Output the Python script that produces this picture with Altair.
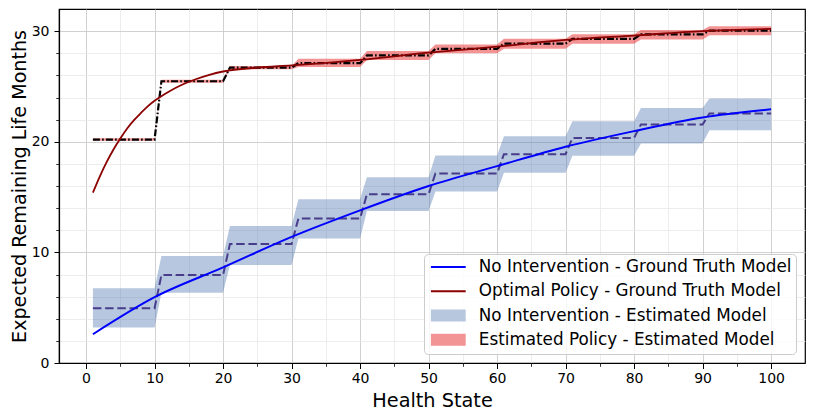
import altair as alt
import pandas as pd

# ---- data ----
block_starts = [1, 11, 21, 31, 41, 51, 61, 71, 81, 91]
block_len = 10

# No Intervention - Estimated Model (dashed step + band)
noint_est_mid = [4.95, 7.95, 10.75, 13.07, 15.25, 17.14, 18.88, 20.35, 21.56, 22.55]
noint_est_hi = [6.75, 9.67, 12.38, 14.80, 16.80, 18.75, 20.50, 21.86, 23.06, 23.90]
noint_est_lo = [3.22, 6.35, 8.85, 11.26, 13.75, 15.50, 17.20, 18.73, 19.84, 21.05]

# Estimated Policy - Estimated Model (dash-dot step + band)
pol_est_mid = [20.20, 25.47, 26.70, 27.10, 27.80, 28.40, 28.87, 29.30, 29.70, 30.05]
pol_est_hi = [20.32, 25.60, 26.85, 27.50, 28.20, 28.80, 29.30, 29.72, 30.10, 30.45]
pol_est_lo = [20.08, 25.34, 26.55, 26.75, 27.40, 28.00, 28.40, 28.85, 29.25, 29.63]

# Ground truth curves
gt_noint_x = [1, 10, 20, 30, 40, 50, 60, 70, 80, 90, 100]
gt_noint_y = [2.6, 5.95, 8.64, 11.4, 13.8, 16.0, 17.8, 19.55, 20.96, 22.2, 22.94]
gt_opt_x = [1, 2, 3, 4, 5, 6, 7, 8, 9, 10, 12, 14, 16, 18, 20, 25, 30,
            40, 50, 60, 70, 80, 90, 100]
gt_opt_y = [15.4, 16.85, 18.15, 19.3, 20.3, 21.2, 21.95, 22.6, 23.2, 23.7,
            24.5, 25.15, 25.65, 26.05, 26.35, 26.7, 26.9,
            27.4, 28.05, 28.6, 29.2, 29.6, 30.0, 30.2]

x_major = [0, 10, 20, 30, 40, 50, 60, 70, 80, 90, 100]
x_minor = [5, 15, 25, 35, 45, 55, 65, 75, 85, 95]
y_major = [0, 10, 20, 30]
y_minor = [2, 4, 6, 8, 12, 14, 16, 18, 22, 24, 26, 28]

legend_labels = [
    "No Intervention - Ground Truth Model",
    "Optimal Policy - Ground Truth Model",
    "No Intervention - Estimated Model",
    "Estimated Policy - Estimated Model",
]
legend_colors = ["#0000FF", "#8B0000", "#B7C7DE", "#F29394"]
line_sym = "M-2.9,-0.17L2.9,-0.17L2.9,0.17L-2.9,0.17Z"
patch_sym = "M-2.9,-1L2.9,-1L2.9,1L-2.9,1Z"
legend_shapes = [line_sym, line_sym, patch_sym, patch_sym]

# ---- tables ----
rows = []
for i, s0 in enumerate(block_starts):
    for s in range(s0, s0 + block_len):
        rows.append({
            "state": s,
            "n_mid": noint_est_mid[i], "n_hi": noint_est_hi[i], "n_lo": noint_est_lo[i],
            "p_mid": pol_est_mid[i], "p_hi": pol_est_hi[i], "p_lo": pol_est_lo[i],
        })
est = pd.DataFrame(rows)
gt_noint = pd.DataFrame({"state": gt_noint_x, "v": gt_noint_y})
gt_opt = pd.DataFrame({"state": gt_opt_x, "v": gt_opt_y})
leg_df = pd.DataFrame({"series": legend_labels})

FONT = "DejaVu Sans"
xscale = alt.Scale(domain=[-3.95, 104.95], nice=False, zero=False)
yscale = alt.Scale(domain=[0, 32], nice=False, zero=False)

x_minor_axis = alt.Axis(values=x_minor, orient="bottom", labels=False, title=None,
                        grid=True, gridColor="#e8e8e8", gridWidth=0.8,
                        ticks=True, tickSize=3.3, tickColor="black", tickWidth=0.8,
                        domain=False)
y_minor_axis = alt.Axis(values=y_minor, orient="left", labels=False, title=None,
                        grid=True, gridColor="#e8e8e8", gridWidth=0.8,
                        ticks=True, tickSize=3.3, tickColor="black", tickWidth=0.8,
                        domain=False)
x_major_axis = alt.Axis(values=x_major, orient="bottom", title="Health State",
                        grid=True, gridColor="#cccccc", gridWidth=0.9,
                        ticks=True, tickSize=5.5, tickColor="black", tickWidth=1,
                        domain=True, domainColor="black", domainWidth=1.2,
                        labelFont=FONT, labelFontSize=14, labelColor="black",
                        labelPadding=3, labelFlush=False,
                        titleFont=FONT, titleFontSize=19.3, titleFontWeight="normal",
                        titleColor="black", titlePadding=5.5)
y_major_axis = alt.Axis(values=y_major, orient="left", title="Expected Remaining Life Months",
                        grid=True, gridColor="#cccccc", gridWidth=0.9,
                        ticks=True, tickSize=5, tickColor="black", tickWidth=1,
                        domain=True, domainColor="black", domainWidth=1.2,
                        labelFont=FONT, labelFontSize=14, labelColor="black",
                        labelPadding=5, labelFlush=False,
                        titleFont=FONT, titleFontSize=19.1, titleFontWeight="normal",
                        titleColor="black", titlePadding=2)

blue_band = alt.Chart(est).mark_area(color="#4C72B0", opacity=0.4).encode(
    x=alt.X("state:Q", scale=xscale, axis=x_minor_axis),
    y=alt.Y("n_lo:Q", scale=yscale, axis=y_minor_axis),
    y2="n_hi:Q",
)
red_band = alt.Chart(est).mark_area(color="#E8272A", opacity=0.5).encode(
    x=alt.X("state:Q", scale=xscale, axis=x_major_axis),
    y=alt.Y("p_lo:Q", scale=yscale, axis=y_major_axis),
    y2="p_hi:Q",
)
dashed = alt.Chart(est).mark_line(color="#483D8B", strokeDash=[8.5, 3.7], strokeWidth=2).encode(
    x=alt.X("state:Q", scale=xscale, axis=None),
    y=alt.Y("n_mid:Q", scale=yscale, axis=None),
)
dashdot = alt.Chart(est).mark_line(color="black", strokeDash=[7, 2.2, 1.6, 2.2], strokeWidth=2.2).encode(
    x=alt.X("state:Q", scale=xscale, axis=None),
    y=alt.Y("p_mid:Q", scale=yscale, axis=None),
)
blue_gt = alt.Chart(gt_noint).mark_line(color="#0000FF", strokeWidth=2, interpolate="monotone").encode(
    x=alt.X("state:Q", scale=xscale, axis=None),
    y=alt.Y("v:Q", scale=yscale, axis=None),
)
red_gt = alt.Chart(gt_opt).mark_line(color="#8B0000", strokeWidth=1.8, interpolate="monotone").encode(
    x=alt.X("state:Q", scale=xscale, axis=None),
    y=alt.Y("v:Q", scale=yscale, axis=None),
)

leg = alt.Legend(title=None, orient="bottom-right", offset=9, padding=4.5,
                 fillColor="rgba(255,255,255,0.8)", strokeColor="#cccccc", cornerRadius=4,
                 labelFont=FONT, labelFontSize=16.8, labelColor="black", labelLimit=600,
                 symbolSize=144, symbolStrokeWidth=0, symbolOffset=11.4, labelOffset=22.1,
                 rowPadding=6.3, symbolOpacity=1)
legend_layer = alt.Chart(leg_df).mark_point(filled=True, opacity=0).encode(
    color=alt.Color("series:N", scale=alt.Scale(domain=legend_labels, range=legend_colors), legend=leg),
    shape=alt.Shape("series:N", scale=alt.Scale(domain=legend_labels, range=legend_shapes), legend=leg),
)

chart = alt.layer(
    blue_band, red_band, dashed, dashdot, blue_gt, red_gt, legend_layer
).resolve_axis(
    x="independent", y="independent"
).properties(
    width=746, height=354,
    padding={"left": 51, "top": 1, "right": 3, "bottom": 50},
    autosize=alt.AutoSizeParams(type="none"),
).configure_view(stroke="black", strokeWidth=1.2)

chart.save("out.html", embed_options={"renderer": "svg", "actions": False})
